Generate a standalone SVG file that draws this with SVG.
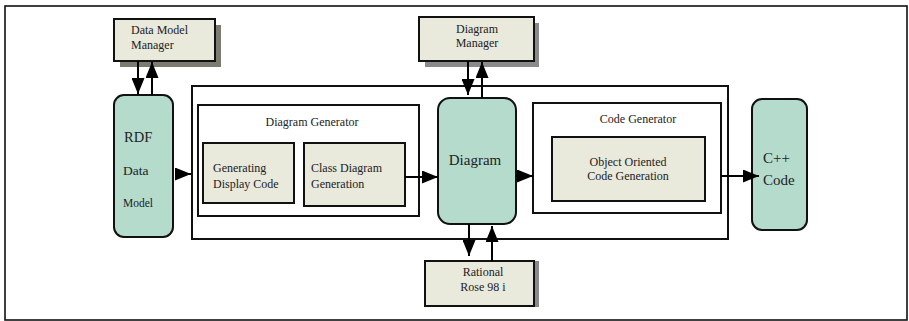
<svg xmlns="http://www.w3.org/2000/svg" width="909" height="321" viewBox="0 0 909 321">
  <style>
    .frame { fill: #ffffff; stroke: #111; stroke-width: 1.6; }
    .box { fill: #ffffff; stroke: #111; stroke-width: 2; }
    .proc { fill: #e9e9dc; stroke: #111; stroke-width: 2; }
    .data { fill: #b4dbcc; stroke: #111; stroke-width: 2; }
    .shadow { fill: #7d7b6f; }
    .shadow2 { fill: #8a8a8a; }
    .conn { stroke: #000; stroke-width: 2; fill: none; marker-end: url(#head); }
    .s { font-size: 12px; }
    .c { text-anchor: middle; }
  </style>
  <defs>
    <marker id="head" markerUnits="userSpaceOnUse" markerWidth="16" markerHeight="13" refX="16" refY="6.5" orient="auto">
      <path d="M0,0 L16,6.5 L0,13 Z" fill="#000"/>
    </marker>
  </defs>

  <!-- page frame -->
  <rect class="frame" x="5" y="6" width="902" height="314"/>

  <g font-family="'Liberation Serif', 'Times New Roman', 'DejaVu Serif', serif" fill="#222">

  <!-- container holding the two generators and the diagram -->
  <g id="pipeline">
    <rect class="box" x="192" y="86" width="536" height="153"/>
  </g>

  <g id="diagram-generator">
    <rect class="box" x="198" y="105" width="221" height="111"/>
    <text class="s c" x="312" y="126">Diagram Generator</text>
  </g>

  <g id="display-code">
    <rect class="proc" x="203" y="143" width="91" height="60"/>
    <text class="s" x="213" y="172">Generating</text>
    <text class="s" x="213" y="188">Display Code</text>
  </g>

  <g id="class-diagram">
    <rect class="proc" x="304" y="143" width="101" height="63"/>
    <text class="s" x="311" y="172">Class Diagram</text>
    <text class="s" x="311" y="188">Generation</text>
  </g>

  <g id="code-generator">
    <rect class="box" x="533" y="103" width="188" height="110"/>
    <text class="s c" x="638" y="123">Code Generator</text>
  </g>

  <g id="oo-codegen">
    <rect class="proc" x="552" y="137" width="153" height="64"/>
    <text class="s c" x="628" y="166">Object Oriented</text>
    <text class="s c" x="628" y="180">Code Generation</text>
  </g>

  <g id="data-model-manager">
    <rect class="shadow" x="120" y="25" width="101" height="42"/>
    <rect class="proc" x="114" y="19" width="101" height="42"/>
    <text class="s" x="131" y="34">Data Model</text>
    <text class="s" x="131" y="49">Manager</text>
  </g>

  <g id="diagram-manager">
    <rect class="shadow2" x="425" y="23" width="114" height="44"/>
    <rect class="proc" x="419" y="17" width="115" height="44"/>
    <text class="s c" x="477" y="33">Diagram</text>
    <text class="s c" x="477" y="47">Manager</text>
  </g>

  <g id="rational-rose">
    <rect class="shadow2" x="531" y="261" width="8" height="46"/>
    <rect class="proc" x="425" y="261" width="109" height="45"/>
    <text class="s c" x="483" y="276">Rational</text>
    <text class="s c" x="483" y="291">Rose 98 i</text>
  </g>

  <g id="rdf-data-model">
    <rect class="data" x="114" y="95" width="59" height="142" rx="10" ry="10"/>
    <text x="124" y="142" font-size="14.5">RDF</text>
    <text x="123" y="175" font-size="13.5">Data</text>
    <text x="123" y="207" font-size="11.5">Model</text>
  </g>

  <g id="diagram">
    <rect class="data" x="438" y="98" width="78" height="126" rx="12" ry="12"/>
    <text class="c" x="475" y="165" font-size="15">Diagram</text>
  </g>

  <g id="cpp-code">
    <rect class="data" x="752" y="99" width="55" height="131" rx="10" ry="10"/>
    <text x="763" y="163" font-size="15">C++</text>
    <text x="763" y="185" font-size="15">Code</text>
  </g>

  </g>

  <g id="connectors">
    <line class="conn" x1="138" y1="61" x2="138" y2="94"/>
    <line class="conn" x1="152" y1="95" x2="152" y2="62"/>
    <line class="conn" x1="175" y1="174" x2="191" y2="174"/>
    <line class="conn" x1="405" y1="177" x2="438" y2="177"/>
    <line class="conn" x1="468" y1="61" x2="468" y2="95"/>
    <line class="conn" x1="482" y1="98" x2="482" y2="62"/>
    <line class="conn" x1="516" y1="176" x2="533" y2="176"/>
    <line class="conn" x1="469" y1="224" x2="469" y2="256"/>
    <line class="conn" x1="492" y1="261" x2="492" y2="226"/>
    <line class="conn" x1="721" y1="176" x2="759" y2="176"/>
  </g>
</svg>
